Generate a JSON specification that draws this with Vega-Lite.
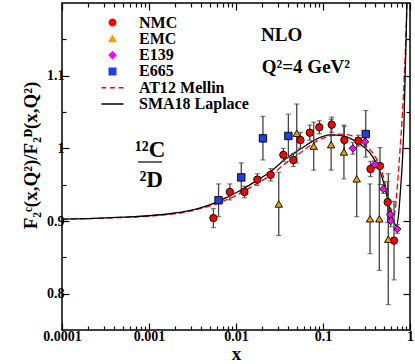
{
  "$schema": "https://vega.github.io/schema/vega-lite/v6.json",
  "autosize": {"type": "none"},
  "width": 348,
  "height": 327,
  "padding": {"left": 62, "top": 3, "right": 5, "bottom": 34},
  "background": "white",
  "config": {
    "view": {"stroke": "black", "strokeWidth": 1.5},
    "font": "Liberation Serif",
    "axis": {
      "domain": false, "grid": false, "tickColor": "black", "tickWidth": 1.2,
      "labelFont": "Liberation Serif", "labelFontWeight": "bold", "labelFontSize": 14, "labelColor": "black",
      "titleFont": "Liberation Serif", "titleFontWeight": "bold", "titleFontSize": 19, "titleColor": "black"
    },
    "legend": {"labelFont": "Liberation Serif", "labelFontWeight": "bold", "labelFontSize": 16, "labelColor": "black"}
  },
  "datasets": {
    "points": [
      {"series": "NMC", "x": 0.0055, "y": 0.904, "lo": 0.891, "hi": 0.917},
      {"series": "NMC", "x": 0.0085, "y": 0.940, "lo": 0.929, "hi": 0.951},
      {"series": "NMC", "x": 0.0125, "y": 0.940, "lo": 0.932, "hi": 0.948},
      {"series": "NMC", "x": 0.0176, "y": 0.957, "lo": 0.949, "hi": 0.965},
      {"series": "NMC", "x": 0.025, "y": 0.9635, "lo": 0.955, "hi": 0.972},
      {"series": "NMC", "x": 0.035, "y": 0.991, "lo": 0.982, "hi": 1.0},
      {"series": "NMC", "x": 0.0456, "y": 0.984, "lo": 0.975, "hi": 0.993},
      {"series": "NMC", "x": 0.055, "y": 1.0114, "lo": 1.0, "hi": 1.022},
      {"series": "NMC", "x": 0.0705, "y": 1.0215, "lo": 1.011, "hi": 1.032},
      {"series": "NMC", "x": 0.0908, "y": 1.029, "lo": 1.02, "hi": 1.038},
      {"series": "NMC", "x": 0.126, "y": 1.0325, "lo": 1.022, "hi": 1.043},
      {"series": "NMC", "x": 0.176, "y": 1.0114, "lo": 0.993, "hi": 1.03},
      {"series": "NMC", "x": 0.255, "y": 1.0105, "lo": 1.003, "hi": 1.018},
      {"series": "NMC", "x": 0.352, "y": 0.9715, "lo": 0.961, "hi": 0.982},
      {"series": "NMC", "x": 0.452, "y": 0.9757, "lo": 0.95, "hi": 1.001},
      {"series": "NMC", "x": 0.554, "y": 0.926, "lo": 0.898, "hi": 0.954},
      {"series": "NMC", "x": 0.655, "y": 0.873, "lo": 0.819, "hi": 0.927},
      {"series": "EMC", "x": 0.031, "y": 0.9234, "lo": 0.88, "hi": 0.967},
      {"series": "EMC", "x": 0.0499, "y": 1.0206, "lo": 0.98, "hi": 1.061},
      {"series": "EMC", "x": 0.0782, "y": 1.003, "lo": 0.97, "hi": 1.036},
      {"series": "EMC", "x": 0.124, "y": 1.005, "lo": 0.97, "hi": 1.04},
      {"series": "EMC", "x": 0.174, "y": 0.995, "lo": 0.958, "hi": 1.032},
      {"series": "EMC", "x": 0.244, "y": 0.958, "lo": 0.906, "hi": 1.01},
      {"series": "EMC", "x": 0.347, "y": 0.903, "lo": 0.855, "hi": 0.951},
      {"series": "EMC", "x": 0.444, "y": 0.903, "lo": 0.832, "hi": 0.974},
      {"series": "EMC", "x": 0.563, "y": 0.875, "lo": 0.785, "hi": 0.965},
      {"series": "E139", "x": 0.22, "y": 1.0, "lo": 0.992, "hi": 1.008},
      {"series": "E139", "x": 0.304, "y": 1.009, "lo": 1.002, "hi": 1.016},
      {"series": "E139", "x": 0.396, "y": 0.978, "lo": 0.973, "hi": 0.983},
      {"series": "E139", "x": 0.494, "y": 0.944, "lo": 0.938, "hi": 0.95},
      {"series": "E139", "x": 0.589, "y": 0.909, "lo": 0.902, "hi": 0.916},
      {"series": "E139", "x": 0.60, "y": 0.900, "lo": 0.892, "hi": 0.908},
      {"series": "E139", "x": 0.715, "y": 0.889, "lo": 0.883, "hi": 0.895},
      {"series": "E665", "x": 0.0063, "y": 0.9285, "lo": 0.906, "hi": 0.951},
      {"series": "E665", "x": 0.0115, "y": 0.960, "lo": 0.94, "hi": 0.98},
      {"series": "E665", "x": 0.0204, "y": 1.0137, "lo": 0.984, "hi": 1.044},
      {"series": "E665", "x": 0.040, "y": 1.017, "lo": 0.987, "hi": 1.047},
      {"series": "E665", "x": 0.31, "y": 1.0197, "lo": 0.988, "hi": 1.052}
    ],
    "curves": [
      {"series": "SMA18 Laplace", "x": 0.0001, "y": 0.9025},
      {"series": "SMA18 Laplace", "x": 0.0002, "y": 0.9033},
      {"series": "SMA18 Laplace", "x": 0.0005, "y": 0.9052},
      {"series": "SMA18 Laplace", "x": 0.001, "y": 0.9072},
      {"series": "SMA18 Laplace", "x": 0.002, "y": 0.911},
      {"series": "SMA18 Laplace", "x": 0.003, "y": 0.9145},
      {"series": "SMA18 Laplace", "x": 0.004, "y": 0.9185},
      {"series": "SMA18 Laplace", "x": 0.006, "y": 0.926},
      {"series": "SMA18 Laplace", "x": 0.008, "y": 0.933},
      {"series": "SMA18 Laplace", "x": 0.012, "y": 0.944},
      {"series": "SMA18 Laplace", "x": 0.017, "y": 0.955},
      {"series": "SMA18 Laplace", "x": 0.025, "y": 0.968},
      {"series": "SMA18 Laplace", "x": 0.035, "y": 0.983},
      {"series": "SMA18 Laplace", "x": 0.055, "y": 0.999},
      {"series": "SMA18 Laplace", "x": 0.085, "y": 1.013},
      {"series": "SMA18 Laplace", "x": 0.12, "y": 1.0185},
      {"series": "SMA18 Laplace", "x": 0.17, "y": 1.017},
      {"series": "SMA18 Laplace", "x": 0.22, "y": 1.012},
      {"series": "SMA18 Laplace", "x": 0.3, "y": 1.001},
      {"series": "SMA18 Laplace", "x": 0.35, "y": 0.993},
      {"series": "SMA18 Laplace", "x": 0.4, "y": 0.982},
      {"series": "SMA18 Laplace", "x": 0.45, "y": 0.969},
      {"series": "SMA18 Laplace", "x": 0.5, "y": 0.952},
      {"series": "SMA18 Laplace", "x": 0.55, "y": 0.931},
      {"series": "SMA18 Laplace", "x": 0.6, "y": 0.912},
      {"series": "SMA18 Laplace", "x": 0.65, "y": 0.899},
      {"series": "SMA18 Laplace", "x": 0.7, "y": 0.893},
      {"series": "SMA18 Laplace", "x": 0.74, "y": 0.91},
      {"series": "SMA18 Laplace", "x": 0.78, "y": 0.945},
      {"series": "SMA18 Laplace", "x": 0.82, "y": 0.985},
      {"series": "SMA18 Laplace", "x": 0.85, "y": 1.03},
      {"series": "SMA18 Laplace", "x": 0.88, "y": 1.1},
      {"series": "SMA18 Laplace", "x": 0.91, "y": 1.17},
      {"series": "SMA18 Laplace", "x": 0.93, "y": 1.22},
      {"series": "AT12 Mellin", "x": 0.0001, "y": 0.9025},
      {"series": "AT12 Mellin", "x": 0.0003, "y": 0.904},
      {"series": "AT12 Mellin", "x": 0.001, "y": 0.9068},
      {"series": "AT12 Mellin", "x": 0.003, "y": 0.9135},
      {"series": "AT12 Mellin", "x": 0.006, "y": 0.924},
      {"series": "AT12 Mellin", "x": 0.012, "y": 0.940},
      {"series": "AT12 Mellin", "x": 0.017, "y": 0.951},
      {"series": "AT12 Mellin", "x": 0.025, "y": 0.963},
      {"series": "AT12 Mellin", "x": 0.035, "y": 0.977},
      {"series": "AT12 Mellin", "x": 0.055, "y": 0.994},
      {"series": "AT12 Mellin", "x": 0.085, "y": 1.010},
      {"series": "AT12 Mellin", "x": 0.12, "y": 1.017},
      {"series": "AT12 Mellin", "x": 0.15, "y": 1.0195},
      {"series": "AT12 Mellin", "x": 0.19, "y": 1.019},
      {"series": "AT12 Mellin", "x": 0.25, "y": 1.013},
      {"series": "AT12 Mellin", "x": 0.3, "y": 1.006},
      {"series": "AT12 Mellin", "x": 0.35, "y": 0.998},
      {"series": "AT12 Mellin", "x": 0.4, "y": 0.988},
      {"series": "AT12 Mellin", "x": 0.45, "y": 0.976},
      {"series": "AT12 Mellin", "x": 0.5, "y": 0.959},
      {"series": "AT12 Mellin", "x": 0.55, "y": 0.938},
      {"series": "AT12 Mellin", "x": 0.6, "y": 0.918},
      {"series": "AT12 Mellin", "x": 0.64, "y": 0.907},
      {"series": "AT12 Mellin", "x": 0.67, "y": 0.912},
      {"series": "AT12 Mellin", "x": 0.7, "y": 0.935},
      {"series": "AT12 Mellin", "x": 0.74, "y": 0.97},
      {"series": "AT12 Mellin", "x": 0.77, "y": 1.0},
      {"series": "AT12 Mellin", "x": 0.82, "y": 1.05},
      {"series": "AT12 Mellin", "x": 0.86, "y": 1.1},
      {"series": "AT12 Mellin", "x": 0.9, "y": 1.16},
      {"series": "AT12 Mellin", "x": 0.93, "y": 1.22}
    ],
    "notes": [{"t": "note"}]
  },
  "resolve": {"axis": {"x": "independent", "y": "independent"}},
  "layer": [
    {
      "data": {"name": "curves"},
      "transform": [{"filter": "datum.series === 'AT12 Mellin'"}],
      "mark": {"type": "line", "clip": true, "strokeWidth": 1.3, "strokeDash": [6, 3], "interpolate": "monotone"},
      "encoding": {
        "x": {"field": "x", "type": "quantitative", "scale": {"type": "log", "domain": [0.0001, 1]},
          "axis": {"orient": "bottom", "values": [0.0001, 0.001, 0.01, 0.1, 1], "format": "~g", "tickSize": -7, "labelPadding": 6, "title": "x", "titlePadding": 1, "labelFlush": false}},
        "y": {"field": "y", "type": "quantitative", "scale": {"domain": [0.75, 1.2], "nice": false, "zero": false},
          "axis": {"orient": "left", "values": [0.8, 0.9, 1, 1.1], "format": "~g", "tickSize": -7, "labelPadding": 5, "title": "F₂ᶜ(x,Q²)/F₂ᴰ(x,Q²)", "titlePadding": 6, "titleY": 152, "labelFlush": false}},
        "color": {"field": "series", "type": "nominal", "scale": {"domain": ["NMC", "EMC", "E139", "E665", "AT12 Mellin", "SMA18 Laplace"], "range": ["#ff0000", "#f0a000", "#ff00ff", "#1f3fe0", "#ff0000", "#000000"]}}
      }
    },
    {
      "data": {"name": "curves"},
      "transform": [{"filter": "datum.series === 'SMA18 Laplace'"}],
      "mark": {"type": "line", "clip": true, "strokeWidth": 1.3, "interpolate": "monotone"},
      "encoding": {
        "x": {"field": "x", "type": "quantitative", "axis": {"orient": "top", "values": [0.0001, 0.001, 0.01, 0.1, 1], "labels": false, "tickSize": -7, "title": null}},
        "y": {"field": "y", "type": "quantitative", "axis": {"orient": "right", "values": [0.8, 0.9, 1, 1.1], "labels": false, "tickSize": -7, "title": null}},
        "color": {"field": "series", "type": "nominal"}
      }
    },
    {
      "data": {"name": "points"},
      "mark": {"type": "rule", "color": "#444444", "strokeWidth": 1.3},
      "encoding": {
        "x": {"field": "x", "type": "quantitative", "axis": {"orient": "bottom", "values": [0.0002,0.0003,0.0004,0.0005,0.0006,0.0007,0.0008,0.0009,0.002,0.003,0.004,0.005,0.006,0.007,0.008,0.009,0.02,0.03,0.04,0.05,0.06,0.07,0.08,0.09,0.2,0.3,0.4,0.5,0.6,0.7,0.8,0.9], "labels": false, "tickSize": -4, "title": null}},
        "y": {"field": "lo", "type": "quantitative", "axis": {"orient": "left", "values": [0.85, 0.95, 1.05, 1.15], "labels": false, "tickSize": -4, "title": null}},
        "y2": {"field": "hi"}
      }
    },
    {
      "data": {"name": "points"},
      "mark": {"type": "tick", "orient": "horizontal", "color": "#444444", "size": 5, "thickness": 1.2},
      "encoding": {
        "x": {"field": "x", "type": "quantitative", "axis": {"orient": "top", "values": [0.0002,0.0003,0.0004,0.0005,0.0006,0.0007,0.0008,0.0009,0.002,0.003,0.004,0.005,0.006,0.007,0.008,0.009,0.02,0.03,0.04,0.05,0.06,0.07,0.08,0.09,0.2,0.3,0.4,0.5,0.6,0.7,0.8,0.9], "labels": false, "tickSize": -4, "title": null}},
        "y": {"field": "lo", "type": "quantitative", "axis": {"orient": "right", "values": [0.85, 0.95, 1.05, 1.15], "labels": false, "tickSize": -4, "title": null}}
      }
    },
    {
      "data": {"name": "points"},
      "mark": {"type": "tick", "orient": "horizontal", "color": "#444444", "size": 5, "thickness": 1.2},
      "encoding": {
        "x": {"field": "x", "type": "quantitative", "axis": null},
        "y": {"field": "hi", "type": "quantitative", "axis": null}
      }
    },
    {
      "data": {"name": "points"},
      "mark": {"type": "point", "filled": true, "opacity": 1, "size": 55, "stroke": "black", "strokeWidth": 0.9},
      "encoding": {
        "x": {"field": "x", "type": "quantitative", "axis": null},
        "y": {"field": "y", "type": "quantitative", "axis": null},
        "color": {"field": "series", "type": "nominal",
          "legend": {"orient": "none", "legendX": 42.5, "legendY": 11.5, "title": null, "padding": 0, "rowPadding": 0.3, "symbolSize": 42,
            "labelFont": "Liberation Serif", "labelFontWeight": "bold", "labelFontSize": 16, "labelColor": "black",
            "labelOffset": 18.5, "labelLimit": 250,
            "encode": {"symbols": {"update": {
              "stroke": [{"test": "datum.value === 'AT12 Mellin'", "value": "#ff0000"}, {"value": "black"}],
              "strokeWidth": [{"test": "datum.value === 'AT12 Mellin' || datum.value === 'SMA18 Laplace'", "value": 1.3}, {"value": 0.9}],
              "opacity": {"value": 1}
            }}}}},
        "shape": {"field": "series", "type": "nominal", "scale": {"domain": ["NMC", "EMC", "E139", "E665", "AT12 Mellin", "SMA18 Laplace"], "range": ["circle", "triangle-up", "diamond", "square", "M-3.4,0H-1.9M-0.75,0H0.75M1.9,0H3.4", "M-3.4,0H3.4"]}}
      }
    },
    {
      "data": {"name": "notes"},
      "mark": {"type": "text", "text": "NLO", "align": "left", "baseline": "alphabetic", "font": "Liberation Serif", "fontWeight": "bold", "fontSize": 19, "color": "black"},
      "encoding": {"x": {"datum": 0.0194, "type": "quantitative", "axis": null}, "y": {"datum": 1.148, "type": "quantitative", "axis": null}}
    },
    {
      "data": {"name": "notes"},
      "mark": {"type": "text", "text": "Q²=4 GeV²", "align": "left", "baseline": "alphabetic", "font": "Liberation Serif", "fontWeight": "bold", "fontSize": 19, "color": "black"},
      "encoding": {"x": {"datum": 0.0198, "type": "quantitative", "axis": null}, "y": {"datum": 1.1036, "type": "quantitative", "axis": null}}
    },
    {
      "data": {"name": "notes"},
      "mark": {"type": "text", "text": "¹²C", "align": "center", "baseline": "alphabetic", "font": "Liberation Serif", "fontWeight": "bold", "fontSize": 23, "color": "black"},
      "encoding": {"x": {"datum": 0.00103, "type": "quantitative", "axis": null}, "y": {"datum": 0.988, "type": "quantitative", "axis": null}}
    },
    {
      "data": {"name": "notes"},
      "mark": {"type": "text", "text": "²D", "align": "center", "baseline": "alphabetic", "font": "Liberation Serif", "fontWeight": "bold", "fontSize": 23, "color": "black"},
      "encoding": {"x": {"datum": 0.00106, "type": "quantitative", "axis": null}, "y": {"datum": 0.9468, "type": "quantitative", "axis": null}}
    },
    {
      "data": {"name": "notes"},
      "mark": {"type": "rule", "color": "black", "strokeWidth": 1.2},
      "encoding": {"x": {"datum": 0.00075, "type": "quantitative", "axis": null}, "x2": {"datum": 0.00141}, "y": {"datum": 0.9812, "type": "quantitative", "axis": null}}
    }
  ]
}
